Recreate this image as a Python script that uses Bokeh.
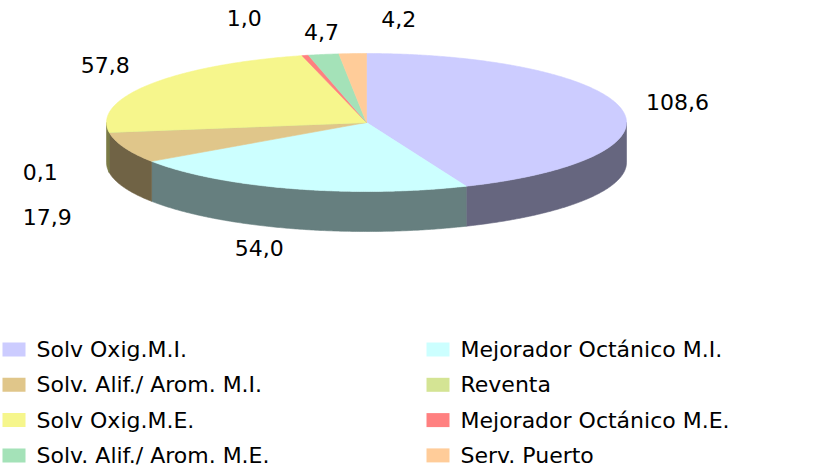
import numpy as np
from bokeh.plotting import figure
from bokeh.models import Range1d
from bokeh.embed import file_html
from bokeh.resources import INLINE
from bokeh.core.properties import value

# ---- data ----
categories = ["Solv Oxig.M.I.", "Mejorador Octánico M.I.", "Solv. Alif./ Arom. M.I.",
              "Reventa", "Solv Oxig.M.E.", "Mejorador Octánico M.E.",
              "Solv. Alif./ Arom. M.E.", "Serv. Puerto"]
values = [108.6, 54.0, 17.9, 0.1, 57.8, 1.0, 4.7, 4.2]
value_labels = ["108,6", "54,0", "17,9", "0,1", "57,8", "1,0", "4,7", "4,2"]
colors = ["#CCCCFF", "#CCFFFF", "#E0C68A", "#D4E494", "#F6F68C", "#FF8080", "#A4E2B8", "#FFCC99"]
# label nudges (px) from slice edge point, mimicking the original collision-avoidance placement
label_nudge = [(56, -7), (-33, 19), (-77, 29), (-69, 0), (-45, -19), (-61, -37), (-2, -22), (46, -35)]

# ---- geometry (screen px) ----
CX, CY, RX, RY, DEPTH = 366, 122, 260, 69, 40
FONT = "DejaVu Sans"
FS = "22px"


def darken(hexcol, f=0.5):
    h = hexcol.lstrip("#")
    r, g, b = (int(h[i:i + 2], 16) for i in (0, 2, 4))
    return "#%02X%02X%02X" % (int(r * f), int(g * f), int(b * f))


def ell(t_deg, dy=0.0):
    t = np.radians(t_deg)
    return CX + RX * np.sin(t), CY - RY * np.cos(t) + dy


W, H = 831, 468
p = figure(width=W, height=H, output_backend="svg", toolbar_location=None,
           x_range=Range1d(0, W), y_range=Range1d(H, 0),
           min_border=0, outline_line_color=None)
p.min_border_left = p.min_border_right = p.min_border_top = p.min_border_bottom = 0
p.xaxis.visible = False
p.yaxis.visible = False
p.grid.visible = False
p.background_fill_color = "white"
p.border_fill_color = "white"

total = float(sum(values))
cum = np.concatenate([[0.0], np.cumsum(values)]) / total * 360.0
starts, ends = cum[:-1], cum[1:]

# sides (front half: 90..270 degrees clockwise from top)
sx, sy, sc = [], [], []
for a, b, c in zip(starts, ends, colors):
    lo, hi = max(a, 90.0), min(b, 270.0)
    if hi > lo:
        t = np.linspace(lo, hi, max(4, int((hi - lo) * 2)))
        x1, y1 = ell(t)
        x2, y2 = ell(t[::-1], DEPTH)
        sx.append(list(np.concatenate([x1, x2])))
        sy.append(list(np.concatenate([y1, y2])))
        sc.append(darken(c))
p.patches(sx, sy, fill_color=sc, line_color=sc, line_width=0.6)

# tops
tx, ty = [], []
for a, b in zip(starts, ends):
    t = np.linspace(a, b, max(4, int((b - a) * 2)))
    x1, y1 = ell(t)
    tx.append([CX] + list(x1))
    ty.append([CY] + list(y1))
p.patches(tx, ty, fill_color=colors, line_color=colors, line_width=0.6)

# value labels
lx, ly = [], []
for a, b, (dx, dy) in zip(starts, ends, label_nudge):
    m = (a + b) / 2
    x0, y0 = ell(m, DEPTH if 90 < m < 270 else 0)
    lx.append(float(x0) + dx)
    ly.append(float(y0) + dy)
p.text(x=lx, y=ly, text=value_labels, text_align="center", text_baseline="middle",
       text_font=value(FONT), text_font_size=FS, text_color="black")

# legend (two columns, row-major)
n = len(categories)
col = np.arange(n) % 2
row = np.arange(n) // 2
sq_x = np.where(col == 0, 13.5, 437.5)
txt_x = np.where(col == 0, 36, 460)
ry_ = 349 + 35.3 * row
p.rect(x=list(sq_x), y=list(ry_), width=23, height=14, fill_color=colors, line_color=None)
p.text(x=list(txt_x), y=list(ry_), text=categories, text_align="left", text_baseline="middle",
       text_font=value(FONT), text_font_size=FS, text_color="black")

open("out.html", "w").write(file_html(p, INLINE))
